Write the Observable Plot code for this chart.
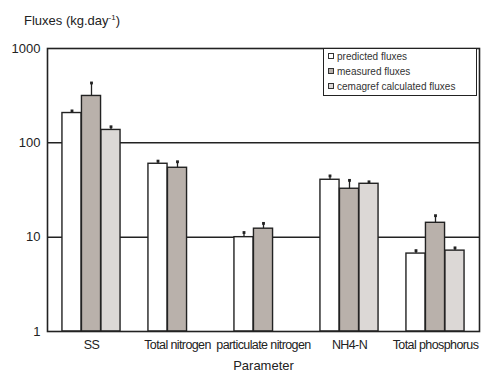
<!DOCTYPE html>
<html><head><meta charset="utf-8">
<script src="https://cdn.jsdelivr.net/npm/d3@7"></script>
<script src="https://cdn.jsdelivr.net/npm/@observablehq/plot@0.6"></script>
<style>
body{margin:0;background:#fff;}
#wrap{position:relative;width:481px;height:372px;overflow:hidden;}
#title{position:absolute;left:24px;top:13px;font:13px "Liberation Sans",Arial,sans-serif;color:#222;}
#title sup{font-size:8px;}
#legend{position:absolute;left:323px;top:48px;width:152px;height:46px;border:1.5px solid #222;background:#fff;font:10px "Liberation Sans",Arial,sans-serif;color:#333;}
#legend div{height:15px;line-height:15px;padding-left:4px;white-space:nowrap;}
#legend span{display:inline-block;width:4px;height:4px;border:1px solid #333;margin-right:3px;vertical-align:middle;position:relative;top:-1px;}
</style></head><body><div id="wrap"></div>
<script>
const categories = ["SS", "Total nitrogen", "particulate nitrogen", "NH4-N", "Total phosphorus"];
const seriesNames = ["predicted fluxes", "measured fluxes", "cemagref calculated fluxes"];
const predicted = [207, 60, 10, 40.6, 6.7];
const predictedUpper = [218, 64, 11.2, 44.6, 7.2];
const measured = [314, 54.4, 12.3, 32.6, 14.2];
const measuredUpper = [431, 63, 14, 40, 16.9];
const cemagref = [137, null, null, 36.8, 7.2];
const cemagrefUpper = [148, null, null, 38.6, 7.7];
const yTicks = [1, 10, 100, 1000];
const gridValues = [10, 100];
const seriesColors = ["#ffffff", "#b9b1ab", "#dcd8d6"];

const seriesValues = [predicted, measured, cemagref];
const seriesUppers = [predictedUpper, measuredUpper, cemagrefUpper];
const rowsBySeries = seriesNames.map((s, i) =>
  categories.map((c, j) => ({category: c, series: s, value: seriesValues[i][j], upper: seriesUppers[i][j]}))
    .filter(d => d.value != null));

const width = 481, height = 372;
const mL = 47, mR = 2, mT = 48, mB = 41;
const bandW = (width - mL - mR) / categories.length;
const barW = 19.5;
const inset = (bandW - barW) / 2;
const offsets = [-barW, 0, barW];
const ink = "#222";

const marks = [Plot.ruleY(gridValues, {stroke: ink, strokeWidth: 1.5})];
rowsBySeries.forEach((rows, i) => {
  marks.push(Plot.ruleX(rows, {x: "category", y1: "value", y2: "upper", dx: offsets[i], stroke: ink, strokeWidth: 1.3}));
  marks.push(Plot.dot(rows, {x: "category", y: "upper", dx: offsets[i], symbol: "square", r: 1.6, fill: ink, stroke: "none"}));
  marks.push(Plot.barY(rows, {x: "category", y1: 1, y2: "value", dx: offsets[i], insetLeft: inset, insetRight: inset,
    fill: seriesColors[i], stroke: ink, strokeWidth: 1.4}));
});
marks.push(Plot.frame({stroke: ink, strokeWidth: 1.6}));

const chart = Plot.plot({
  width, height,
  marginLeft: mL, marginRight: mR, marginTop: mT, marginBottom: mB,
  style: {fontFamily: '"Liberation Sans", Arial, sans-serif', fontSize: "13px", color: ink, background: "#fff"},
  x: {domain: categories, padding: 0, tickSize: 0, tickPadding: 9, label: "Parameter", labelAnchor: "center", labelOffset: 38},
  y: {type: "log", domain: [1, 1000], ticks: yTicks, tickFormat: d => String(d), tickSize: 0, tickPadding: 7, label: null},
  marks
});
const wrap = document.getElementById("wrap");
wrap.appendChild(chart);
// condensed x tick labels
chart.querySelectorAll('[aria-label="x-axis tick label"]').forEach(g => {
  g.style.fontSize = "12.5px";
  g.style.letterSpacing = "-0.6px";
});

const title = document.createElement("div");
title.id = "title";
title.innerHTML = "Fluxes (kg.day<sup>-1</sup>)";
wrap.appendChild(title);

const legend = document.createElement("div");
legend.id = "legend";
seriesNames.forEach((s, i) => {
  const row = document.createElement("div");
  const sw = document.createElement("span");
  sw.style.background = seriesColors[i];
  row.appendChild(sw);
  row.appendChild(document.createTextNode(s));
  legend.appendChild(row);
});
wrap.appendChild(legend);
</script></body></html>
